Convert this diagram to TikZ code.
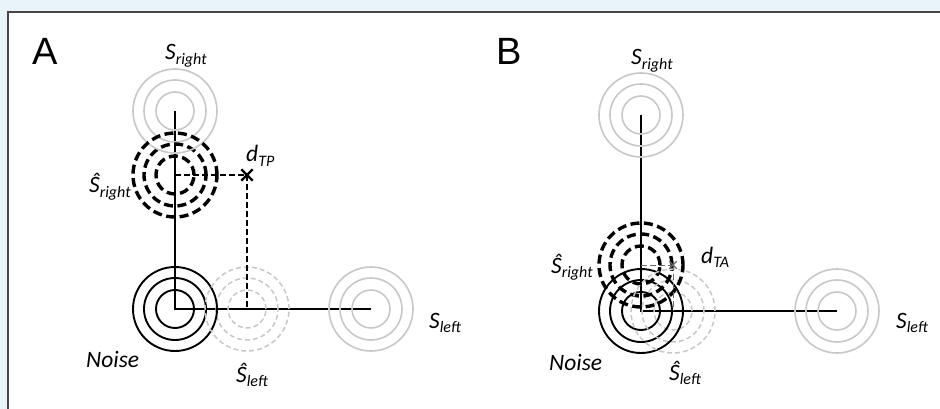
\documentclass[tikz,border=0pt]{standalone}
\usepackage{fontspec}
\setmainfont{Carlito}
\newfontfamily\panelfont{Liberation Sans}
\usetikzlibrary{shapes.misc}

\definecolor{pagebg}{RGB}{232,243,250}
\definecolor{framegray}{RGB}{70,70,70}
\definecolor{ringgray}{RGB}{200,200,200}

\newcommand{\lbl}[2]{#1\raisebox{-4.5pt}{\fontsize{16}{16}\selectfont #2}}

\tikzset{
  axis/.style={line width=2.5pt},
  ring/.style={draw=ringgray, line width=1.6pt},
  estring/.style={draw=ringgray, line width=1.5pt, dash pattern=on 5pt off 3pt},
  hatring/.style={draw=black, line width=3.4pt, dash pattern=on 9pt off 4.5pt},
  noisering/.style={draw=black, line width=1.9pt},
  guide/.style={line width=2.2pt, dash pattern=on 6pt off 3pt},
  lab/.style={font=\fontsize{23.5}{25}\selectfont\itshape, inner sep=0pt, anchor=base west},
  panel/.style={font=\panelfont\fontsize{38}{40}\selectfont, inner sep=0pt, anchor=base west}
}

\begin{document}
\begin{tikzpicture}[x=1pt,y=-1pt]
  \useasboundingbox (0,0) rectangle (940,409);
  \fill[pagebg] (0,0) rectangle (940,409);
  \draw[framegray, fill=white, line width=1.5pt] (8,12) rectangle (950,420);

  % Panel A
  \node[panel] (panA) at (32,65) {A};
  \coordinate (noiseA) at (175,309);
  \coordinate (srA) at (175,111);
  \coordinate (slA) at (371,309);
  \coordinate (hsrA) at (175,175);
  \coordinate (hslA) at (247,309);

  % Draw axes
  \draw[axis] (srA) -- (noiseA) -- (slA);

  \foreach \r in {19,31,42} {
    \draw[noisering] (noiseA) circle (\r pt);
    \draw[ring] (srA) circle (\r pt);
    \draw[ring] (slA) circle (\r pt);
    \draw[estring] (hslA) circle (\r pt);
    \draw[hatring] (hsrA) circle (\r pt);
  }

  \node[cross out, draw, line width=2.4pt, minimum size=9pt, inner sep=0pt] (xA) at (247,175) {};
  \draw[guide] (hsrA) -- (xA.center);
  \draw[guide] (xA.center) -- (hslA);

  \node[lab] (srlabA) at (165,60) {\lbl{S}{right}};
  \node[lab] (hsrlabA) at (89,193) {\lbl{Ŝ}{right}};
  \node[lab] (dlabA) at (246,162) {\lbl{d}{TP}};
  \node[lab] (noiselabA) at (86,367) {Noise};
  \node[lab] (hsllabA) at (236,382) {\lbl{Ŝ}{left}};
  \node[lab] (sllabA) at (429,328) {\lbl{S}{left}};

  % Panel B
  \node[panel] (panB) at (496,65) {B};
  \coordinate (noiseB) at (641,311);
  \coordinate (srB) at (641,115);
  \coordinate (slB) at (837,311);
  \coordinate (hsrB) at (641,265);
  \coordinate (hslB) at (673,311);

  \draw[axis] (srB) -- (noiseB) -- (slB);

  \foreach \r in {19,31,42} {
    \draw[noisering] (noiseB) circle (\r pt);
    \draw[ring] (srB) circle (\r pt);
    \draw[ring] (slB) circle (\r pt);
    \draw[estring] (hslB) circle (\r pt);
    \draw[hatring] (hsrB) circle (\r pt);
  }

  \node[cross out, draw=black!60, line width=1.4pt, minimum size=6pt, inner sep=0pt] (xB) at (673,265) {};
  \draw[guide, draw=black!60, line width=1pt] (hsrB) -- (xB.center);
  \draw[guide, draw=black!60, line width=1pt] (xB.center) -- (hslB);

  \node[lab] (srlabB) at (631,65) {\lbl{S}{right}};
  \node[lab] (hsrlabB) at (551,273) {\lbl{Ŝ}{right}};
  \node[lab] (dlabB) at (701,263) {\lbl{d}{TA}};
  \node[lab] (noiselabB) at (549,370) {Noise};
  \node[lab] (hsllabB) at (669,380) {\lbl{Ŝ}{left}};
  \node[lab] (sllabB) at (896,328) {\lbl{S}{left}};
\end{tikzpicture}
\end{document}
